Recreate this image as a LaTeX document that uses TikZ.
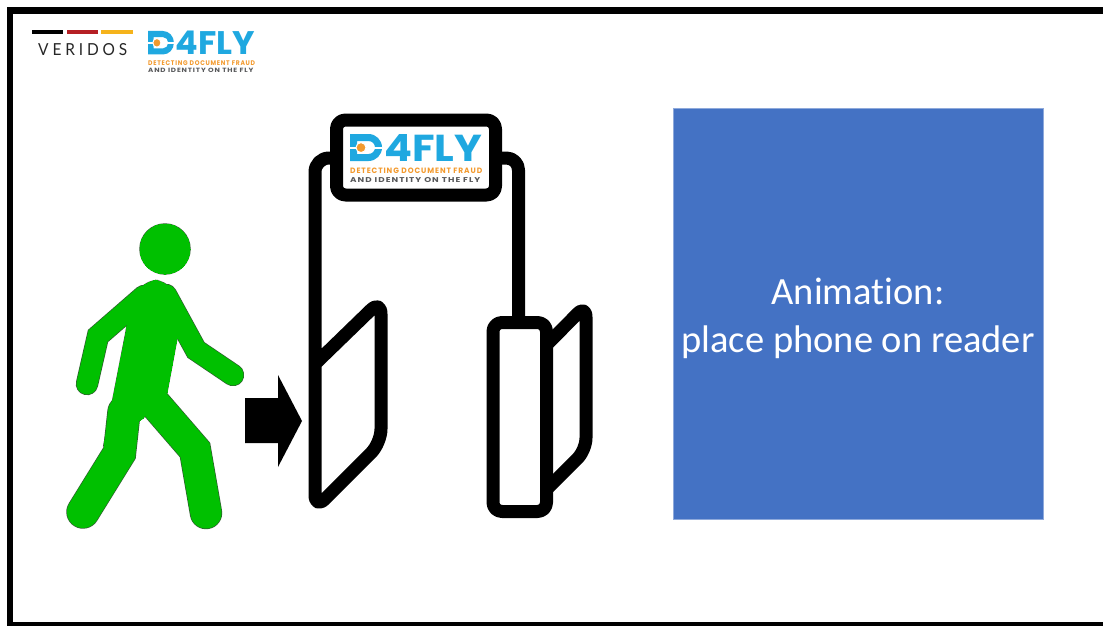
\documentclass[tikz,border=0pt]{standalone}
\usepackage{amsmath, amssymb}
\usepackage{xcolor}
\usepackage{graphicx}
\usepackage{fontspec}
\usepackage{tikz}

\newfontfamily\calibri{Carlito}[Ligatures=NoCommon]
\newfontfamily\logofont{Poppins}
\newfontfamily\logowide{Poppins}[LetterSpace=12]
\newfontfamily\veridosfont{Lato}[LetterSpace=25]

\definecolor{walker}{HTML}{00C000}
\definecolor{walkeredge}{HTML}{2F5F2F}
\definecolor{animblue}{HTML}{4472C4}
\definecolor{animedge}{HTML}{8EA9DB}
\definecolor{flyblue}{HTML}{1FA8E0}
\definecolor{flyorange}{HTML}{F39A2E}
\definecolor{flygray}{HTML}{58595B}
\definecolor{verired}{HTML}{B51F24}
\definecolor{veriyellow}{HTML}{F5B31B}

\tikzset{
  gateline/.style={draw=black, line width=13, line join=round, rounded corners=9},
  limb/.style={line cap=round},
  logotext/.style={anchor=north west, inner sep=0, transform shape},
  animbox/.style={fill=animblue, draw=animedge, line width=1, minimum width=370pt, minimum height=411pt},
  animtext/.style={text=white, align=center, font=\calibri\fontsize{38.5}{48}\selectfont},
  pics/dfourfly/.style={code={
    % D with the orange eye
    \fill[flyblue, even odd rule] (0,0) -- (18.5,0) arc[start angle=-90, end angle=90, radius=13.5] -- (0,27) -- cycle
      (7,7) -- (18.5,7) arc[start angle=-90, end angle=90, radius=6.5] -- (7,20) -- cycle;
    \fill[white] (0,12.6) rectangle (32,14.6);
    \fill[flyorange, draw=white, line width=1] (11,13.6) circle (5);
    \node[logotext, text=flyblue] (-word) at (34,0) {\resizebox{98pt}{27pt}{\logofont\bfseries 4FLY}};
    \node[logotext] (-tagline) at (0,34) {\vbox{\offinterlineskip
      \hbox{\color{flyorange}\resizebox{132pt}{5.5pt}{\logowide\bfseries DETECTING DOCUMENT FRAUD}}
      \vskip3.5pt
      \hbox{\color{flygray}\resizebox{130pt}{5pt}{\logowide\bfseries AND IDENTITY ON THE FLY}}}};
  }}
}

\begin{document}
\begin{tikzpicture}[x=1pt, y=-1pt]
\useasboundingbox (0,0) rectangle (1103,626);
\fill[white] (0,0) rectangle (1103,626);
\draw[line width=6.5] (10,10.5) rectangle (1115,625);

% veridos and d4fly in the corner
\fill[black] (32,30) rectangle (63,34);
\fill[verired] (67,30) rectangle (98,34);
\fill[veriyellow] (101,30) rectangle (133,34);
\node[anchor=north west, inner sep=0, text=black!85] (veridos) at (38,43) {\resizebox{89pt}{12pt}{\veridosfont VERIDOS}};
\pic[xscale=0.81, yscale=0.87] (toplogo) at (148,31) {dfourfly};

% walking person
\foreach \pad/\col in {1.4/walkeredge, 0/walker} {
  \filldraw[fill=\col, draw=\col, line width=\pad] (165,249) circle (25);
  \filldraw[fill=\col, draw=\col, line width=\pad] (126,332) -- (131,300) [rounded corners=10] -- (148,280) -- (165,281) [sharp corners] -- (178,298) -- (177,338) -- (167,392) -- (143,418) -- (104,445) -- cycle;
  \draw[limb, \col, line width=21+\pad] (144,296) -- (98,336) -- (87,384);
  \draw[limb, \col, line width=21+\pad] (166,295) -- (196,350) -- (233,375);
  \draw[limb, \col, line width=32+\pad] (124,412) -- (119.5,453) -- (83,512);
  \draw[limb, \col, line width=31+\pad] (150,398) -- (195,450) -- (206,513);
}

% arrow into the gate
\fill[black] (245,398) -- (278,398) -- (278,375) -- (302,421) -- (278,467) -- (278,443) -- (245,443) -- cycle;

% gate
\draw[gateline, rounded corners=14] (337,158) -- (315,158) -- (315,509) -- (381,443) -- (381,300) -- (315,364);
\draw[gateline, rounded corners=12] (495,158) -- (518.5,158) -- (518.5,322);
\draw[gateline] (493,322.5) rectangle (546.5,511.5);
\draw[gateline, rounded corners=12] (546.5,345) -- (586,305) -- (586,450) -- (546.5,489.5);
\draw[gateline, fill=white] (336.5,120) rectangle (495.5,195);
\pic (gatelogo) at (350,134) {dfourfly};

% animation placeholder
\node[animbox] (anim) at (858,313.5) {};
\node[animtext] (caption) at (858,318) {Animation:\\place phone on reader};
\end{tikzpicture}
\end{document}
